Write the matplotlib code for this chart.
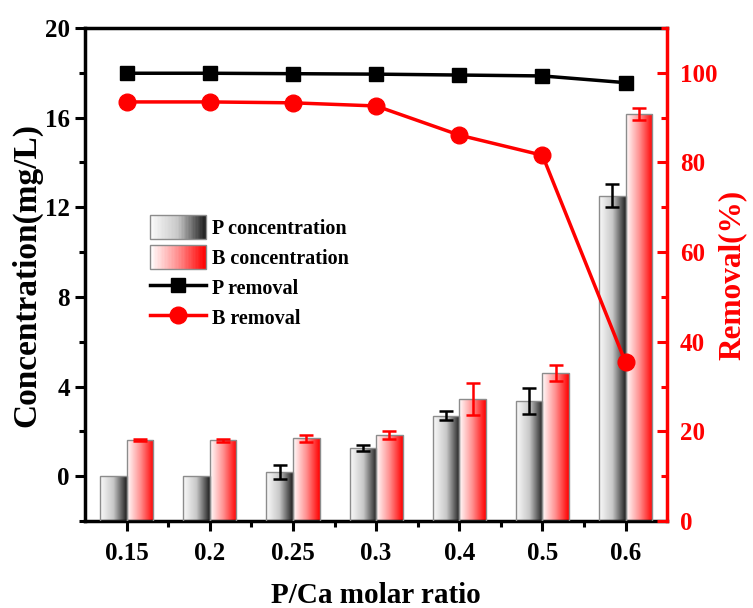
import numpy as np
import matplotlib
matplotlib.use("Agg")
import matplotlib.pyplot as plt
from matplotlib.colors import LinearSegmentedColormap
from matplotlib.legend_handler import HandlerBase
from matplotlib.patches import Rectangle
from matplotlib.lines import Line2D
from matplotlib.ticker import MultipleLocator

plt.rcParams['font.family'] = ['Liberation Serif', 'DejaVu Serif']
plt.rcParams['font.weight'] = 'bold'

categories = ['0.15', '0.2', '0.25', '0.3', '0.4', '0.5', '0.6']
p_conc = [0.0, 0.0, 0.18, 1.25, 2.70, 3.36, 12.52]
p_err = [0.0, 0.0, 0.30, 0.14, 0.19, 0.59, 0.50]
b_conc = [1.60, 1.60, 1.69, 1.84, 3.45, 4.61, 16.15]
b_err = [0.04, 0.07, 0.15, 0.18, 0.70, 0.34, 0.26]
p_removal = [99.9, 99.9, 99.8, 99.7, 99.5, 99.3, 97.8]
b_removal = [93.5, 93.5, 93.3, 92.6, 86.1, 81.6, 35.4]

cmap_p = LinearSegmentedColormap.from_list('p', ['#fbfbfb', '#c8c8c8', '#1e1e1e'])
cmap_b = LinearSegmentedColormap.from_list('b', ['#ffffff', '#ff9090', '#ff0000'])

fig = plt.figure(figsize=(7.53, 6.08), dpi=100)
ax = fig.add_axes([0.113, 0.143, 0.773, 0.811])
ax2 = ax.twinx()

x = np.arange(len(categories))
w = 0.32
ybot = -2
grad = np.linspace(0, 1, 256).reshape(1, -1)


def gradient_bars(axis, xs, vals, cmap):
    bars = axis.bar(xs, np.array(vals) - ybot, bottom=ybot, width=w,
                    facecolor='none', edgecolor='#8c8c8c', linewidth=1.0, zorder=3)
    for b in bars:
        bx, by = b.get_x(), b.get_y()
        bw, bh = b.get_width(), b.get_height()
        im = axis.imshow(grad, extent=[bx, bx + bw, by, by + bh], aspect='auto',
                         cmap=cmap, zorder=2, interpolation='bilinear')
        im.set_clip_path(b)
    return bars


gradient_bars(ax, x - w / 2, p_conc, cmap_p)
gradient_bars(ax, x + w / 2, b_conc, cmap_b)

pe = np.array(p_err)
be = np.array(b_err)
mp = pe > 0
ax.errorbar((x - w / 2)[mp], np.array(p_conc)[mp], yerr=pe[mp], fmt='none',
            ecolor='black', elinewidth=1.8, capsize=5, capthick=1.8, zorder=4)
ax.errorbar(x + w / 2, b_conc, yerr=be, fmt='none',
            ecolor='red', elinewidth=1.8, capsize=5, capthick=1.8, zorder=4)

ax.set_xlim(-0.5, 6.5)
ax.set_ylim(-2, 20)
ax.set_xticks(x)
ax.set_xticklabels(categories)
ax.set_xticks(x[:-1] + 0.5, minor=True)
ax.yaxis.set_major_locator(MultipleLocator(4))
ax.yaxis.set_minor_locator(MultipleLocator(2))
ax.tick_params(axis='both', which='major', direction='out', length=7, width=2.2,
               labelsize=18)
ax.tick_params(axis='both', which='minor', direction='out', length=4, width=2.2)
ax.tick_params(axis='x', pad=8)
ax.tick_params(axis='y', pad=4)
for s in ['left', 'bottom', 'top']:
    ax.spines[s].set_linewidth(2.5)
ax.spines['right'].set_visible(False)

ax2.plot(x, p_removal, color='black', marker='s', markersize=10, linewidth=2.5,
         zorder=5, label='P removal')
ax2.plot(x, b_removal, color='red', marker='o', markersize=12, linewidth=2.5,
         zorder=5, label='B removal')
ax2.set_ylim(0, 110)
ax2.yaxis.set_major_locator(MultipleLocator(20))
ax2.yaxis.set_minor_locator(MultipleLocator(10))
ax2.spines['right'].set_color('red')
ax2.spines['right'].set_linewidth(2.5)
for s in ['left', 'bottom', 'top']:
    ax2.spines[s].set_visible(False)
ax2.tick_params(axis='y', which='major', direction='in', length=7, width=2.2,
                colors='red', labelsize=18, pad=9)
ax2.tick_params(axis='y', which='minor', direction='in', length=4, width=2.2,
                colors='red')

ax.set_xlabel('P/Ca molar ratio', fontsize=21, fontweight='bold', labelpad=12)
ax.set_ylabel('Concentration(mg/L)', fontsize=24, fontweight='bold', labelpad=2)
ax2.set_ylabel('Removal(%)', fontsize=22.5, fontweight='bold', color='red', labelpad=0)


class GradientHandler(HandlerBase):
    def __init__(self, cmap, n=40):
        super().__init__()
        self.cmap = cmap
        self.n = n

    def create_artists(self, legend, orig_handle, xdescent, ydescent, width, height,
                       fontsize, trans):
        arts = []
        sw = width / self.n
        for i in range(self.n):
            r = Rectangle((-xdescent + i * sw, -ydescent), sw * 1.05, height,
                          facecolor=self.cmap(i / (self.n - 1)), edgecolor='none',
                          transform=trans)
            arts.append(r)
        arts.append(Rectangle((-xdescent, -ydescent), width, height, facecolor='none',
                              edgecolor='#8c8c8c', linewidth=1.0, transform=trans))
        return arts


hp = Rectangle((0, 0), 1, 1)
hb = Rectangle((0, 0), 1, 1)
lp = Line2D([], [], color='black', marker='s', markersize=10, linewidth=2.5)
lb = Line2D([], [], color='red', marker='o', markersize=12, linewidth=2.5)
leg = ax2.legend([hp, hb, lp, lb],
                 ['P concentration', 'B concentration', 'P removal', 'B removal'],
                 handler_map={hp: GradientHandler(cmap_p), hb: GradientHandler(cmap_b)},
                 loc='upper left', bbox_to_anchor=(0.111, 0.62), frameon=False,
                 fontsize=14.5, handlelength=2.8, handleheight=1.45, labelspacing=0.3,
                 handletextpad=0.3, borderaxespad=0, borderpad=0)
leg.set_zorder(10)

fig.savefig('out.png', dpi=100)
